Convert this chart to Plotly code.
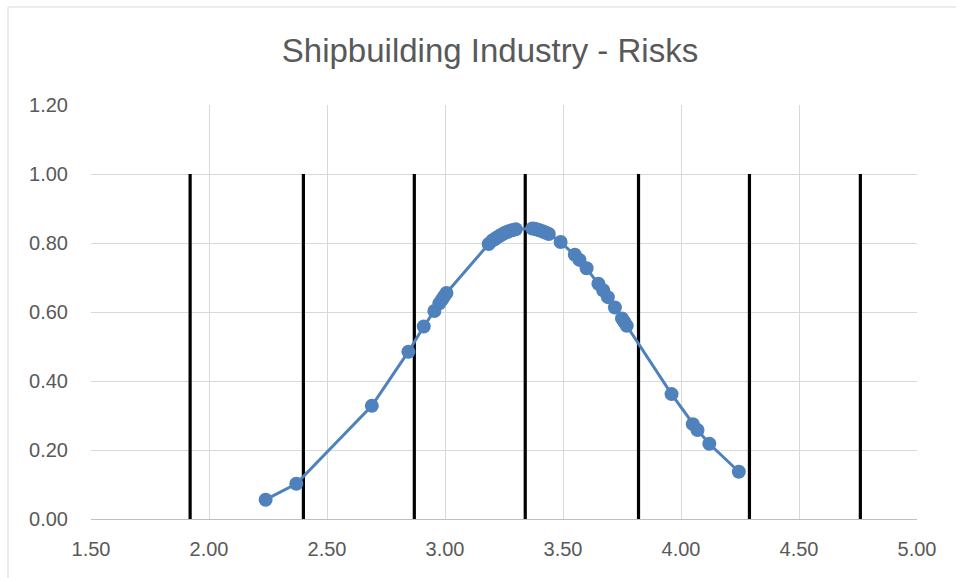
import plotly.graph_objects as go

# Risk scores and their normal-density values
risk_score = [2.24, 2.37, 2.69, 2.845, 2.91, 2.955, 2.976, 2.986, 2.996, 3.006,
              3.185, 3.20, 3.21, 3.22, 3.23, 3.24, 3.25, 3.26, 3.27, 3.28, 3.29, 3.30,
              3.37, 3.38, 3.39, 3.40, 3.41, 3.42, 3.43, 3.44,
              3.49, 3.55, 3.57, 3.60, 3.65, 3.67, 3.69, 3.72, 3.75, 3.76, 3.77,
              3.96, 4.05, 4.07, 4.12, 4.245]
density = [0.056, 0.102, 0.328, 0.485, 0.558, 0.603, 0.625, 0.635, 0.645, 0.655,
           0.797, 0.807, 0.811, 0.816, 0.820, 0.824, 0.828, 0.831, 0.834, 0.836, 0.838, 0.840,
           0.842, 0.841, 0.839, 0.837, 0.835, 0.832, 0.829, 0.826,
           0.803, 0.766, 0.751, 0.727, 0.682, 0.663, 0.643, 0.613, 0.581, 0.571, 0.560,
           0.362, 0.275, 0.258, 0.218, 0.137]

# Mean and +/- 1, 2, 3 standard deviation markers
sigma_marks = [1.92, 2.40, 2.87, 3.34, 3.82, 4.29, 4.76]
sigma_line_y = [0.0, 1.0]

x_ticks = [1.5, 2.0, 2.5, 3.0, 3.5, 4.0, 4.5, 5.0]
y_ticks = [0.0, 0.2, 0.4, 0.6, 0.8, 1.0, 1.2]

FONT = "Liberation Sans"
TEXT = "#595959"
GRID = "#D9D9D9"
BLUE = "#4F81BD"

fig = go.Figure()

for xm in sigma_marks:
    fig.add_trace(go.Scatter(
        x=[xm, xm], y=sigma_line_y, mode="lines",
        line=dict(color="black", width=3.2),
        hoverinfo="skip", showlegend=False,
    ))

fig.add_trace(go.Scatter(
    x=risk_score, y=density, mode="lines+markers",
    line=dict(color=BLUE, width=3),
    marker=dict(color=BLUE, size=14, line=dict(width=0)),
    showlegend=False,
))

fig.update_layout(
    width=956, height=578,
    margin=dict(l=91, r=39, t=105, b=59),
    paper_bgcolor="white", plot_bgcolor="white",
    font=dict(family=FONT, color=TEXT, size=20),
    title=dict(text="Shipbuilding Industry - Risks",
               x=490 / 956, xref="container", xanchor="center",
               y=1 - 50 / 578, yref="container", yanchor="middle",
               font=dict(family=FONT, size=33, color=TEXT)),
    xaxis=dict(range=[1.5, 5.0], tickvals=x_ticks,
               ticktext=[f"{v:.2f}" for v in x_ticks],
               showgrid=True, gridcolor=GRID, gridwidth=1,
               zeroline=False, showline=True, linecolor="#BFBFBF", linewidth=1,
               ticks="", ticklabelstandoff=12,
               tickfont=dict(family=FONT, size=20, color=TEXT)),
    yaxis=dict(range=[0, 1.2], tickvals=y_ticks,
               ticktext=[f"{v:.2f}" for v in y_ticks],
               showgrid=True, gridcolor=GRID, gridwidth=1,
               zeroline=False, showline=False,
               ticks="", ticklabelstandoff=22,
               tickfont=dict(family=FONT, size=20, color=TEXT)),
    # chart-area frame; only its left and top edges fall inside the page
    shapes=[dict(type="rect", xref="paper", yref="paper",
                 x0=(8 - 91) / 826, x1=(990 - 91) / 826,
                 y0=(519 - 620) / 414, y1=(519 - 7) / 414,
                 line=dict(color=GRID, width=1), layer="below")],
)

fig.write_html("out.html", config={"displayModeBar": False})
